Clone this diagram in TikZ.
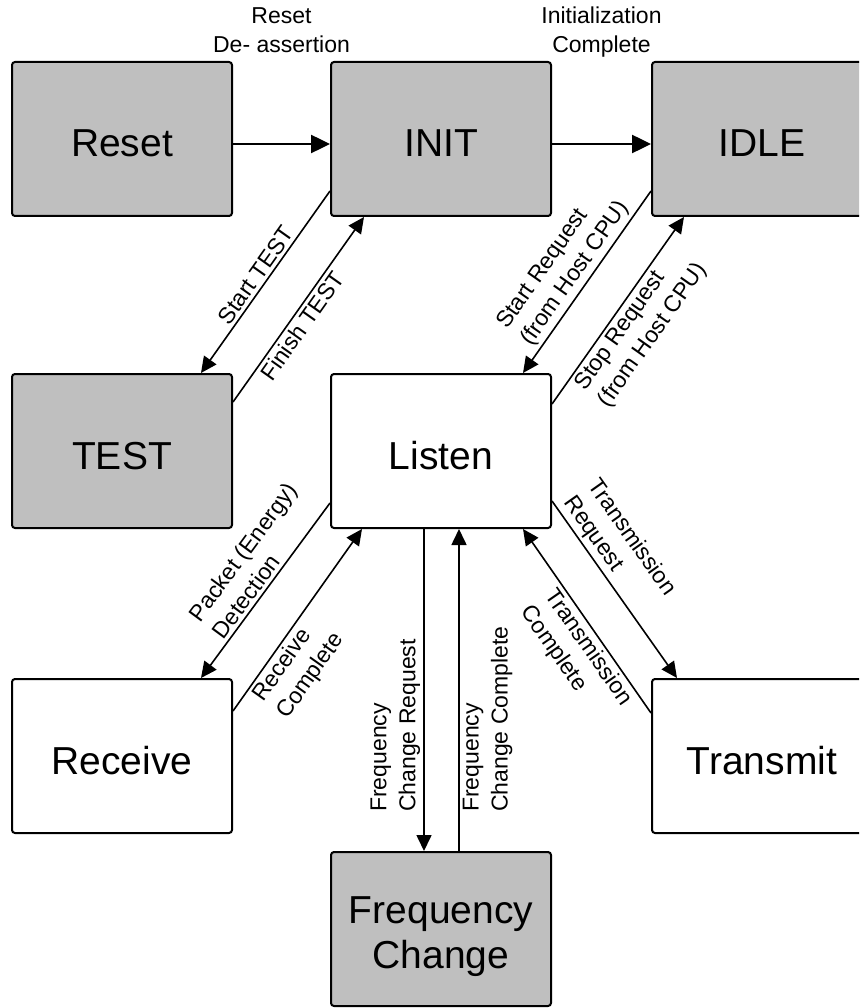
\documentclass[tikz,border=0pt]{standalone}
\usepackage{fontspec}
\setmainfont{Liberation Sans}
\usetikzlibrary{arrows.meta,positioning}

\begin{document}
\begin{tikzpicture}[x=1pt, y=-1pt, state/.style={draw, line width=2pt, rounded corners=3pt, minimum width=220pt, minimum height=154pt, align=center, text height=36pt, text depth=0pt, font=\fontsize{39}{45}\selectfont}, busy/.style={state, fill=black!25},%
        trans/.style={line width=1.6pt, -{Triangle[length=16pt,width=15pt]}}, main/.style={line width=2.5pt, -{Triangle[length=19pt,width=18pt]}},%
        cond/.style={font=\fontsize{23}{29}\selectfont, align=left, inner sep=3pt}]
        \useasboundingbox (0,0) rectangle (859,1008);
        \clip (0,0) rectangle (859,1008);
        \node[busy] (Reset) at (122,139) {Reset};
        \node[busy] (INIT) at (441,139) {INIT};
        \node[busy] (IDLE) at (762,139) {IDLE};
        \node[busy] (TEST) at (122,451) {TEST};
        \node[state] (Listen) at (441,451) {Listen};
        \node[state] (Receive) at (122,756) {Receive};
        \node[state] (Transmit) at (762,756) {Transmit};
        \node[busy, text height=80pt, text depth=2pt] (FreqChange) at (441,929) {Frequency\\Change};

        \draw[main] ([yshift=-5pt]Reset.east) -- node[cond, align=center, anchor=base, yshift=91pt] {Reset\\De- assertion} ([yshift=-5pt]INIT.west);
        \draw[main] ([yshift=-5pt]INIT.east) -- node[cond, align=center, anchor=base, yshift=91pt] {Initialization\\Complete} ([yshift=-5pt]IDLE.west);

        \draw[trans] ([yshift=26pt]INIT.south west) -- node[cond, sloped, above] {Start TEST} ([xshift=-32pt]TEST.north east);
        \draw[trans] ([yshift=-29pt]TEST.north east) -- node[cond, sloped, below, pos=.45] {Finish TEST} ([xshift=34pt]INIT.south west);
        \draw[trans] ([yshift=26pt]IDLE.south west) -- node[cond, sloped, above] {Start Request\\(from Host CPU)} ([xshift=-29pt]Listen.north east);
        \draw[trans] ([yshift=-31pt]Listen.north east) -- node[cond, sloped, below] {Stop Request\\(from Host CPU)} ([xshift=33pt]IDLE.south west);
        \draw[trans] ([yshift=26pt]Listen.south west) -- node[cond, sloped, above, pos=.42] {Packet (Energy)\\Detection} ([xshift=-32pt]Receive.north east);
        \draw[trans] ([yshift=-33pt]Receive.north east) -- node[cond, sloped, below, pos=.33] {Receive\\Complete} ([xshift=32pt]Listen.south west);
        \draw[trans] ([yshift=28pt]Listen.south east) -- node[cond, sloped, above, pos=.35] {Transmission\\Request} ([xshift=26pt]Transmit.north west);
        \draw[trans] ([yshift=-35pt]Transmit.north west) -- node[cond, sloped, below, pos=.4] {Transmission\\Complete} ([xshift=-29pt]Listen.south east);

        \draw[trans] ([xshift=-17pt]Listen.south) -- node[cond, rotate=90, anchor=south west, pos=.89] {Frequency\\Change Request} ([xshift=-17pt]FreqChange.north);
        \draw[trans] ([xshift=18pt]FreqChange.north) -- node[cond, rotate=90, anchor=north west, pos=.11] {Frequency\\Change Complete} ([xshift=18pt]Listen.south);
    \end{tikzpicture}
\end{document}
